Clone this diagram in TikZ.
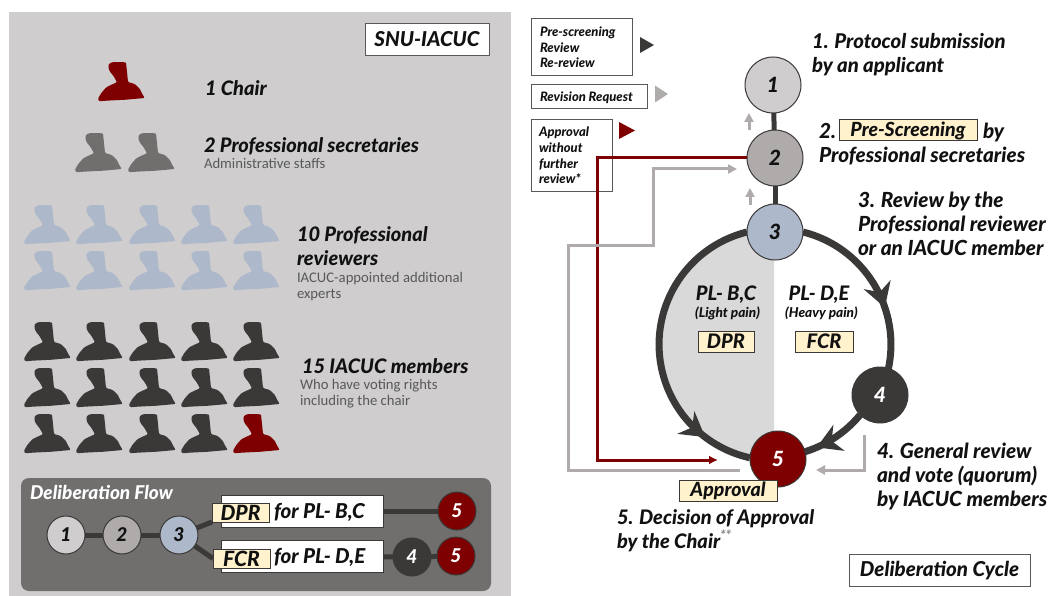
\documentclass[tikz,border=0pt]{standalone}
\usepackage{fontspec}
\setmainfont{Lato}[BoldItalicFont={Lato Heavy Italic}]
\newfontfamily\lightfont{Carlito}
\usetikzlibrary{arrows.meta,decorations.markings,backgrounds}
\definecolor{panelgray}{HTML}{CFCDCE}
\definecolor{flowgray}{HTML}{716E6E}
\definecolor{midgray}{HTML}{AFABAB}
\definecolor{bluegray}{HTML}{ADB9CA}
\definecolor{darkc}{HTML}{3B3838}
\definecolor{wine}{HTML}{7F0000}
\definecolor{cream}{HTML}{FFF2CC}
\definecolor{halfgray}{HTML}{D9D9D9}
\definecolor{ink}{HTML}{111111}
\definecolor{subink}{HTML}{595959}
\definecolor{starink}{HTML}{8A8A8A}
\newcommand{\bi}[1]{\fontsize{#1}{24}\selectfont\bfseries\itshape}
\tikzset{
  x=1pt,y=1pt,
  every node/.style={inner sep=0pt,outer sep=0pt,text=ink},
  person/.pic={\fill[pic actions,rounded corners=1pt] (11,-1.7)--(15,0)--(28,-0.3)--(29,-10)--(30,-20)--(36.7,-22)--(41.7,-26.7)--(44.3,-32)--(46.7,-36)--(28,-37.7)--(8,-38.7)--(1,-39.3)--(0,-36.7)--(3.3,-31)--(8.3,-25.3)--(15,-22)--(19,-20.3)--(15.7,-14.3)--(11.7,-9.3)--(10.3,-5.3)--cycle;},
  head/.style={anchor=base west,align=left,font=\bi{20}},
  headc/.style={anchor=base,align=center,font=\bi{20}},
  sublabel/.style={anchor=base west,align=left,text=subink,font={\lightfont\fontsize{14.7}{16}\selectfont}},
  legendtext/.style={anchor=base west,align=left,font={\fontsize{13}{15.7}\selectfont\bfseries\itshape}},
  framebox/.style={draw=subink,line width=1pt,fill=white},
  legendbox/.style={draw=subink,line width=1pt},
  ybox/.style={draw=darkc,line width=1pt,fill=cream,font=\bi{20}},
  stepA/.style={circle,draw=darkc,line width=1pt,minimum size=38pt,font=\bi{19}},
  stepB/.style={circle,draw=darkc,line width=1pt,minimum size=56pt,font=\bi{21}},
  link/.style={draw=darkc,line width=5pt},
  ring/.style={draw=darkc,line width=7pt},
  head mark/.style={postaction={decorate,decoration={markings,mark=at position #1 with {\arrow[darkc]{Stealth[length=24pt,width=28pt]}}}}},
  grayflow/.style={draw=midgray,line width=3pt},
  redflow/.style={draw=wine,line width=3pt},
  tipg/.style={-{Triangle[length=9pt,width=9pt]}},
}
\begin{document}
\begin{tikzpicture}
\useasboundingbox (0,0) rectangle (1052,-596);
% left panel
\node[minimum width=502pt,minimum height=584pt,anchor=north west] (panel) at (9,-12) {};
\node[framebox,minimum width=124pt,minimum height=32pt,font=\bi{20.5}] (snu) at (427,-39.5) {SNU-IACUC};
% people
\pic[fill=wine] at (98,-62) {person};
\foreach \x in {75,128} \pic[fill=flowgray] at (\x,-133) {person};
\foreach \x in {24,76,129,181,233} \foreach \y in {205,251} \pic[fill=bluegray] at (\x,-\y) {person};
\foreach \x in {24,76,129,181,233} \foreach \y in {322,368} \pic[fill=darkc] at (\x,-\y) {person};
\foreach \x in {24,76,129,181} \pic[fill=darkc] at (\x,-414) {person};
\pic[fill=wine] at (233,-414) {person};
% left labels
\node[head] (tchair) at (205,-96) {1 Chair};
\node[head] (tsec) at (204,-153) {2 Professional secretaries};
\node[sublabel] (tsecs) at (204,-169) {Administrative staffs};
\node[head] (trev) at (297,-265.5) {10 Professional\\reviewers};
\node[sublabel] (trevs) at (297,-298) {IACUC-appointed additional\\experts};
\node[head] (tmem) at (302,-373) {15 IACUC members};
\node[sublabel] (tmems) at (300,-405) {Who have voting rights\\including the chair};
% deliberation flow
\node[rounded corners=8pt,minimum width=470pt,minimum height=113pt,anchor=north west] (fpanel) at (21,-478) {};
\node[anchor=base west,text=white,font=\bi{19}] (ftitle) at (30,-499) {Deliberation Flow};
\node[stepA,fill=panelgray] (f1) at (66,-535) {1};
\node[stepA,fill=midgray] (f2) at (122,-535) {2};
\node[stepA,fill=bluegray] (f3) at (179,-535) {3};
\node[framebox,draw=darkc,minimum width=162pt,minimum height=32pt] (fb1) at (302,-511) {};
\node[framebox,draw=darkc,minimum width=162pt,minimum height=32pt] (fb2) at (302,-556) {};
\node[ybox,font=\bi{21},minimum width=57pt,minimum height=19pt] (fdpr) at (240.5,-512.5) {DPR};
\node[ybox,font=\bi{21},minimum width=57pt,minimum height=19pt] (ffcr) at (241.5,-558.5) {FCR};
\node[anchor=base west,font=\bi{20.5}] (ft1) at (274,-518) {for PL- B,C};
\node[anchor=base west,font=\bi{20.5}] (ft2) at (274,-563) {for PL- D,E};
\node[stepA,fill=wine,text=white] (f5a) at (457,-511) {5};
\node[stepA,fill=darkc,text=white] (f4) at (412,-557) {4};
\node[stepA,fill=wine,text=white] (f5b) at (456,-556) {5};
% right legend
\node[legendbox,minimum width=101pt,minimum height=57pt] (lg1) at (581.5,-47.5) {};
\node[legendtext] (lg1t) at (540,-68) {Pre-screening\\Review\\Re-review};
\node (lg1m) at (640,-45) {};
\fill[darkc] (lg1m) ++(0,8) -- ++(14,-8) -- ++(-14,-8) -- cycle;
\node[legendbox,minimum width=116pt,minimum height=24pt] (lg2) at (589,-97) {};
\node[legendtext] (lg2t) at (540,-102) {Revision Request};
\node (lg2m) at (655,-94) {};
\fill[midgray] (lg2m) ++(0,8.5) -- ++(13,-8.5) -- ++(-13,-8.5) -- cycle;
\node[legendbox,minimum width=81pt,minimum height=72pt] (lg3) at (571.5,-156) {};
\node[legendtext] (lg3t) at (539,-184) {Approval\\without\\further\\review*};
\node (lg3m) at (619,-130.5) {};
\fill[wine] (lg3m) ++(0,8.5) -- ++(16,-8.5) -- ++(-16,-8.5) -- cycle;
% cycle steps
\node[stepB,fill=panelgray] (c1) at (773,-85) {1};
\node[stepB,fill=midgray] (c2) at (775,-158) {2};
\node[stepB,fill=bluegray] (c3) at (775,-232) {3};
\node[stepB,fill=darkc,text=white] (c4) at (880,-395) {4};
\node[stepB,fill=wine,text=white] (c5) at (778,-459) {5};
% cycle labels
\node[head,font=\bi{20.3}] (t1) at (812,-72.5) {1. Protocol submission\\by an applicant};
\node[head,font=\bi{20.7}] (t2) at (819,-163) {2.\\Professional secretaries};
\node[ybox,font=\bi{19.5},minimum width=138pt,minimum height=21pt] (ps) at (908,-130.5) {Pre-Screening};
\node[head,font=\bi{20.7}] (t2b) at (983,-139) {by};
\node[head,font=\bi{20.8}] (t3) at (858,-255) {3. Review by the\\Professional reviewer\\or an IACUC member};
\node[headc,font=\bi{20}] (plbc) at (726,-300) {PL- B,C};
\node[headc,font=\bi{20}] (plde) at (819,-300) {PL- D,E};
\node[anchor=base,font={\fontsize{13.6}{14}\selectfont\bfseries\itshape}] (lp) at (727.5,-317.5) {(Light pain)};
\node[anchor=base,font={\fontsize{13.6}{14}\selectfont\bfseries\itshape}] (hp) at (821.5,-317.5) {(Heavy pain)};
\node[ybox,minimum width=56pt,minimum height=21pt] (dpr) at (726,-341.5) {DPR};
\node[ybox,minimum width=58pt,minimum height=21pt] (fcr) at (824,-341.5) {FCR};
\node[ybox,font=\bi{19.5},minimum width=98pt,minimum height=21pt] (appr) at (728,-490.5) {Approval};
\node[head,font=\bi{20.8}] (t4) at (877,-506) {4. General review\\and vote (quorum)\\by IACUC members};
\node[head,font=\bi{20}] (t5) at (617,-548) {5. Decision of Approval\\by the Chair\textcolor{starink}{\textsuperscript{**}}};
\node[framebox,minimum width=181pt,minimum height=32pt,font=\bi{20.5}] (dc) at (939.5,-570.5) {Deliberation Cycle};
% free ends
\coordinate (redend) at (718,-460);
\coordinate (grayin) at (737,-169);
\coordinate (grayout) at (740,-470);
\coordinate (gray2start) at (864,-435);
\coordinate (gray2end) at (816,-470);
\coordinate (up1a) at (749,-130);
\coordinate (up1b) at (749,-113);
\coordinate (up2a) at (750,-205);
\coordinate (up2b) at (750,-188);
% flows above the legend box
\draw[redflow,-{Latex[length=9pt,width=9pt]}] (c2.west) -- (597,-158) -- (597,-460) -- (redend);
\draw[grayflow,tipg] (grayout) -- (568,-470) -- (568,-245) -- (653,-245) -- (653,-169) -- (grayin);
\draw[grayflow,tipg] (gray2start) -- (864,-470) -- (gray2end);
\draw[midgray,line width=3pt,tipg] (up1a) -- (up1b);
\draw[midgray,line width=3pt,tipg] (up2a) -- (up2b);
\begin{pgfonlayer}{background}
  \fill[panelgray] (panel.north west) rectangle (panel.south east);
  \fill[flowgray,rounded corners=8pt] (fpanel.north west) rectangle (fpanel.south east);
  \begin{scope}
    \clip (640,-215) rectangle (774,-475);
    \fill[halfgray] (775,-343) circle[radius=116];
  \end{scope}
  \draw[link] (f1) -- (f2);
  \draw[link] (f2) -- (f3);
  \draw[link] (f3) -- (fdpr.south west);
  \draw[link] (f3) -- (ffcr.west);
  \draw[link] (fb1) -- (f5a);
  \draw[link] (fb2) -- (f4);
  \draw[link] (f4) -- (f5b);
  \draw[link] (c1) -- (c2);
  \draw[link] (c2) -- (c3);
  \draw[ring,head mark=0.84] (c3.west) arc[start angle=104,end angle=257.5,radius=116];
  \draw[ring,head mark=0.645] (c3.east) arc[start angle=76,end angle=-13,radius=116];
  \draw[ring,head mark=0.765] (c4.south west) arc[start angle=-39.6,end angle=-75,radius=116];
\end{pgfonlayer}
\end{tikzpicture}
\end{document}
